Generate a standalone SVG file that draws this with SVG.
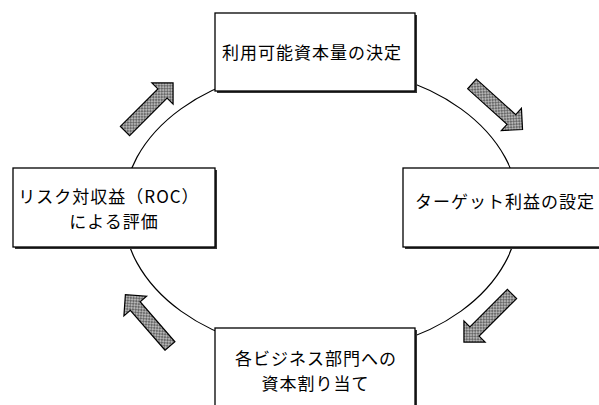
<svg xmlns="http://www.w3.org/2000/svg" width="599" height="405" viewBox="0 0 599 405">
<style>
.box{fill:#fff;stroke:#000;stroke-width:1.3}
.sh{fill:#333}
.t{font-family:"Noto Sans CJK JP","Noto Sans",sans-serif;font-size:17px;letter-spacing:1px;fill:#000;text-anchor:middle;dominant-baseline:central}
.arr{fill:url(#hatch);stroke:#000;stroke-width:1.2;stroke-linejoin:miter}
.ring{fill:none;stroke:#000;stroke-width:1.2}
</style>
<defs>
<pattern id="hatch" width="4" height="4" patternUnits="userSpaceOnUse">
<rect width="4" height="4" fill="#b4b4b4"/>
<path d="M0,4 L4,0 M0,0 L4,4" stroke="#555" stroke-width="0.8"/>
</pattern>
<polygon id="arrow" points="0,-6.5 53,-6.5 53,-15 68,0 53,15 53,6.5 0,6.5"/>
</defs>
<rect width="599" height="405" fill="#fff"/>
<g id="connectors">
<ellipse class="ring" cx="321" cy="210" rx="198" ry="143"/>
<use href="#arrow" class="arr" transform="translate(125,131) rotate(-45)"/>
<use href="#arrow" class="arr" transform="translate(472,84) rotate(42)"/>
<use href="#arrow" class="arr" transform="translate(512,294) rotate(135)"/>
<use href="#arrow" class="arr" transform="translate(170,346) rotate(229)"/>
</g>
<g id="node-top">
<rect class="sh" x="217" y="15" width="200" height="78"/>
<rect class="box" x="215" y="13" width="200" height="78"/>
<text class="t" x="312" y="51">利用可能資本量の決定</text>
</g>
<g id="node-right">
<rect class="sh" x="405" y="170" width="200" height="79"/>
<rect class="box" x="403" y="168" width="200" height="79"/>
<text class="t" x="505" y="200">ターゲット利益の設定</text>
</g>
<g id="node-bottom">
<rect class="sh" x="217" y="330" width="200" height="90"/>
<rect class="box" x="215" y="328" width="200" height="90"/>
<text class="t" x="316" y="357">各ビジネス部門への</text>
<text class="t" x="315.5" y="382">資本割り当て</text>
</g>
<g id="node-left">
<rect class="sh" x="15" y="170" width="202" height="79"/>
<rect class="box" x="13" y="168" width="202" height="79"/>
<text class="t" x="109" y="195">リスク対収益（ROC）</text>
<text class="t" x="114" y="220">による評価</text>
</g>
</svg>
